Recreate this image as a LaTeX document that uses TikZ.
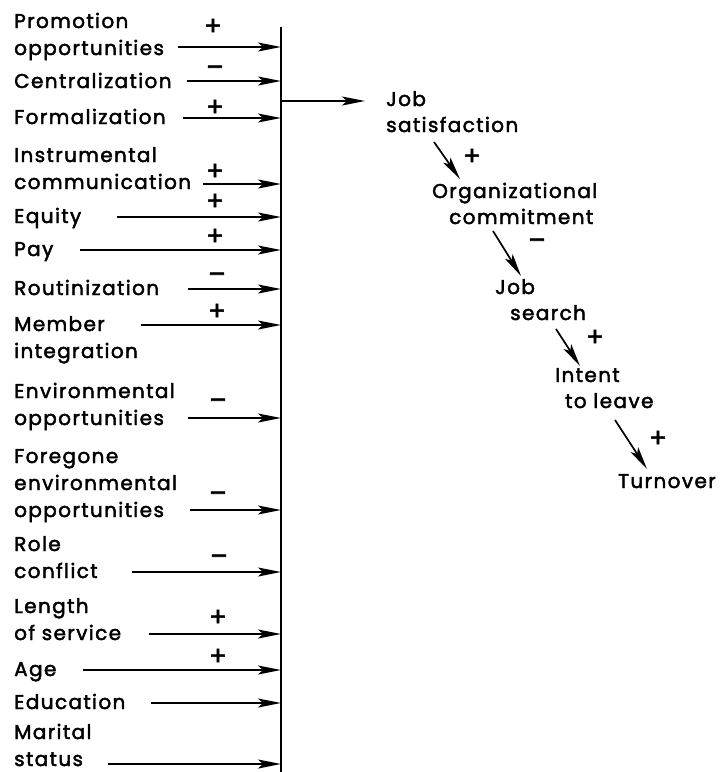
\documentclass[tikz,border=0pt]{standalone}
\usepackage{fontspec}
\setmainfont{Poppins}
\newfontfamily\figfont{Poppins}[LetterSpace=7, FakeBold=2.2]
\usetikzlibrary{arrows.meta,positioning,calc}

\begin{document}
\begin{tikzpicture}[
    x=1pt, y=-1pt,
    factor/.style={anchor=base west, align=left, inner sep=0pt, font=\figfont\fontsize{20}{27}\selectfont},
    outcome/.style={anchor=base west, align=left, inner sep=0pt, font=\figfont\fontsize{20}{26}\selectfont},
    sign/.style={inner sep=0pt, font=\figfont\fontsize{26}{26}\selectfont},
    arrow/.style={-{Stealth[length=23pt, width=9pt, inset=5pt]}, line width=1.7pt},
    bar/.style={line width=2.4pt}
]
\useasboundingbox (0,0) rectangle (725,772);

% Collecting bar
\coordinate (bartop) at (281,27);
\coordinate (barbot) at (281,772);
\draw[bar] (bartop) -- (barbot);

% Antecedents
\node[factor] (promo) at (14,55) {Promotion\\opportunities};
\coordinate (cpromo) at (178,47);
\draw[arrow] (cpromo) -- (cpromo -| bartop);
\node[sign] at (213,27) {+};

\node[factor] (central) at (14,88) {Centralization};
\coordinate (ccentral) at (187,81);
\draw[arrow] (ccentral) -- (ccentral -| bartop);
\node[sign] at (215,71) {–};

\node[factor] (formal) at (14,124) {Formalization};
\coordinate (cformal) at (183,118);
\draw[arrow] (cformal) -- (cformal -| bartop);
\node[sign] at (215,108) {+};

\node[factor] (instr) at (14,189) {Instrumental\\communication};
\coordinate (cinstr) at (203,184);
\draw[arrow] (cinstr) -- (cinstr -| bartop);
\node[sign] at (215,172) {+};

\node[factor] (equity) at (14,223) {Equity};
\coordinate (cequity) at (117,217);
\draw[arrow] (cequity) -- (cequity -| bartop);
\node[sign] at (215,202) {+};

\node[factor] (pay) at (14,256) {Pay};
\coordinate (cpay) at (80,250);
\draw[arrow] (cpay) -- (cpay -| bartop);
\node[sign] at (215,237) {+};

\node[factor] (routin) at (14,295) {Routinization};
\coordinate (croutin) at (188,289);
\draw[arrow] (croutin) -- (croutin -| bartop);
\node[sign] at (217,278) {–};

\node[factor] (member) at (14,358) {Member\\integration};
\coordinate (cmember) at (141,325);
\draw[arrow] (cmember) -- (cmember -| bartop);
\node[sign] at (217,312) {+};

\node[factor] (envopp) at (14,425) {Environmental\\opportunities};
\coordinate (cenvopp) at (188,418);
\draw[arrow] (cenvopp) -- (cenvopp -| bartop);
\node[sign] at (218,404) {–};

\node[factor] (foreg) at (14,517) {Foregone\\environmental\\opportunities};
\coordinate (cforeg) at (190,510);
\draw[arrow] (cforeg) -- (cforeg -| bartop);
\node[sign] at (218,497) {–};

\node[factor] (role) at (14,578) {Role\\conflict};
\coordinate (crole) at (132,572);
\draw[arrow] (crole) -- (crole -| bartop);
\node[sign] at (219,560) {–};

\node[factor] (length) at (14,640) {Length\\of service};
\coordinate (clength) at (149,634);
\draw[arrow] (clength) -- (clength -| bartop);
\node[sign] at (218,618) {+};

\node[factor] (age) at (14,676) {Age};
\coordinate (cage) at (83,670);
\draw[arrow] (cage) -- (cage -| bartop);
\node[sign] at (218,657) {+};

\node[factor] (educ) at (14,709) {Education};
\coordinate (ceduc) at (151,703);
\draw[arrow] (ceduc) -- (ceduc -| bartop);

\node[factor] (marital) at (14,766) {Marital\\status};
\coordinate (cmarital) at (108,764);
\draw[arrow] (cmarital) -- (cmarital -| bartop);

% Causal chain
\node[outcome] (jobsat) at (386,132) {Job\\satisfaction};
\coordinate (cjobsat) at (281,101);
\draw[arrow] (cjobsat) -- (365,101);

\node[outcome] (orgcom) at (432,224) {Organizational\\\hspace*{17pt}commitment};
\node[outcome] (search) at (495,320) {Job\\\hspace*{15pt}search};
\node[outcome] (intent) at (555,408) {Intent\\\hspace*{10pt}to leave};
\node[outcome] (turn) at (618,488) {Turnover};

\draw[arrow] ($(jobsat.base west)+(48,10)$) -- ($(orgcom.base west)+(28,-45)$);
\node[sign] at (472,157) {+};
\draw[arrow] ($(orgcom.base west)+(61,7)$) -- ($(search.base west)+(26,-44)$);
\node[sign] at (537,244) {–};
\draw[arrow] ($(search.base west)+(61,9)$) -- ($(intent.base west)+(25,-42)$);
\node[sign] at (595,338) {+};
\draw[arrow] ($(intent.base west)+(60,12)$) -- ($(turn.base west)+(29,-19)$);
\node[sign] at (658,439) {+};

\end{tikzpicture}
\end{document}
